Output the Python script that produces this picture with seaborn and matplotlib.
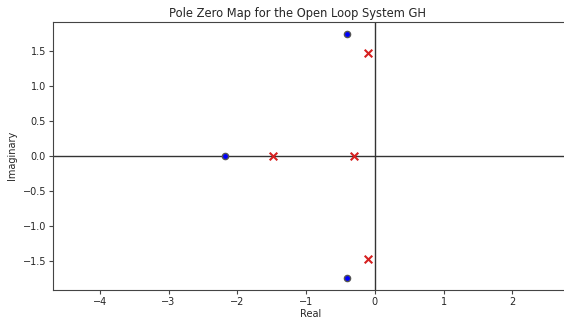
import matplotlib
matplotlib.use("Agg")
import matplotlib.pyplot as plt
import seaborn as sns
import pandas as pd

zeros_re = [-2.18, -0.41, -0.41]
zeros_im = [0.0, 1.75, -1.75]
poles_re = [-1.48, -0.30, -0.10, -0.10]
poles_im = [0.0, 0.0, 1.47, -1.47]

sns.set_style("white")
plt.rcParams['font.family'] = ['DejaVu Sans']

fig = plt.figure(figsize=(5.64, 3.2), dpi=100)
ax = fig.add_axes([0.094, 0.095, 0.912, 0.836])

ax.axhline(0, color="#333333", lw=1.0, zorder=1)
ax.axvline(0, color="#333333", lw=1.0, zorder=1)

zdf = pd.DataFrame({"Real": zeros_re, "Imaginary": zeros_im})
pdf = pd.DataFrame({"Real": poles_re, "Imaginary": poles_im})
sns.scatterplot(data=zdf, x="Real", y="Imaginary", ax=ax, marker="o", s=20,
                color="blue", edgecolor="#555555", linewidth=1.0, zorder=3)
sns.scatterplot(data=pdf, x="Real", y="Imaginary", ax=ax, marker="x", s=30,
                color="#d62020", linewidth=1.5, zorder=3)

ax.set_xlim(-4.68, 2.80)
ax.set_ylim(-1.915, 1.915)
ax.set_xticks([-4, -3, -2, -1, 0, 1, 2])
ax.set_yticks([-1.5, -1.0, -0.5, 0.0, 0.5, 1.0, 1.5])
ax.tick_params(axis="both", labelsize=7, length=3, width=0.8, color="#444444",
               bottom=True, left=True, pad=2)
for sp in ax.spines.values():
    sp.set_color("#444444")
    sp.set_linewidth(0.8)
ax.set_xlabel("Real", fontsize=7, labelpad=2)
ax.set_ylabel("Imaginary", fontsize=7, labelpad=4)
ax.set_title("Pole Zero Map for the Open Loop System GH", fontsize=8.3, pad=4, x=0.475)

fig.savefig("out.png", dpi=100)
